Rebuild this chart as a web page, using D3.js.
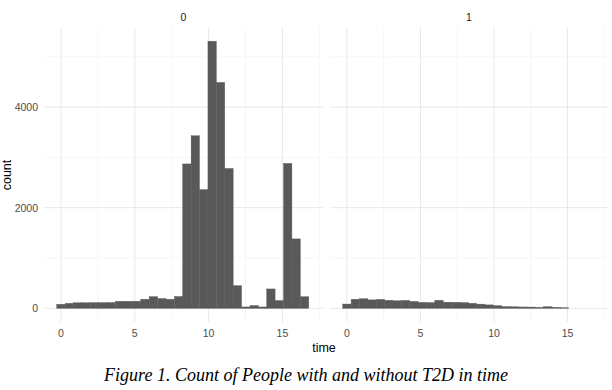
<!DOCTYPE html>
<html>
<head>
<meta charset="utf-8">
<script src="https://cdn.jsdelivr.net/npm/d3@7"></script>
<style>
    body { margin: 0; background: #fff; }
    #chart-area { width: 612px; height: 390px; }
    text { font-family: "Liberation Sans", Arial, sans-serif; }
    .caption { font-family: "Liberation Serif", "Times New Roman", serif; font-style: italic; }
</style>
</head>
<body>
<div id="chart-area"></div>
<script>

// bin centres (time), shared by both facets
const binCenters = [0, 0.57, 1.14, 1.71, 2.28, 2.84, 3.41, 3.98, 4.55, 5.12,
    5.69, 6.26, 6.83, 7.40, 7.97, 8.53, 9.10, 9.67, 10.24, 10.81,
    11.38, 11.95, 12.52, 13.09, 13.66, 14.22, 14.79, 15.36, 15.93, 16.50];
const binWidth = 0.569;

// counts per bin, T2D = 0 and T2D = 1
const counts0 = [80, 100, 110, 110, 112, 112, 115, 140, 140, 140,
    180, 232, 195, 180, 235, 2870, 3430, 2360, 5310, 4490,
    2780, 450, 27, 55, 27, 385, 155, 2880, 1380, 230];
const counts1 = [85, 180, 190, 168, 177, 160, 150, 157, 137, 118,
    114, 160, 122, 120, 114, 100, 83, 68, 53, 34,
    30, 27, 25, 20, 32, 20, 12, 0, 0, 0];

const facetLabels = ["0", "1"];
const xMajor = [0, 5, 10, 15];
const xMinor = [2.5, 7.5, 12.5, 17.5];
const yMajor = [0, 2000, 4000];
const yMinor = [1000, 3000, 5000];


class FacetHistVis {

    constructor(_parentElement, _series) {
        this.parentElement = _parentElement;
        this.series = _series;
        this.initVis();
    }

    initVis() {
        let vis = this;

        vis.width = 612;
        vis.height = 390;

        vis.svg = d3.select("#" + vis.parentElement).append("svg")
            .attr("width", vis.width)
            .attr("height", vis.height);

        // one panel per facet
        vis.panels = [
            {x0: 44, x1: 323},
            {x0: 330, x1: 608}
        ];
        vis.top = 28;
        vis.bottom = 322;

        vis.y = d3.scaleLinear()
            .domain([-272, 5572])
            .range([vis.bottom, vis.top]);

        vis.updateVis();
    }

    updateVis() {
        let vis = this;

        vis.series.forEach((s, i) => {
            let p = vis.panels[i];
            let x = d3.scaleLinear()
                .domain([-1.15, 17.75])
                .range([p.x0, p.x1]);

            let g = vis.svg.append("g");

            // minor grid
            g.selectAll(".vminor").data(xMinor).enter().append("line")
                .attr("x1", d => x(d)).attr("x2", d => x(d))
                .attr("y1", vis.top).attr("y2", vis.bottom)
                .attr("stroke", "#f2f2f2").attr("stroke-width", 0.7);
            g.selectAll(".hminor").data(yMinor).enter().append("line")
                .attr("x1", p.x0).attr("x2", p.x1)
                .attr("y1", d => vis.y(d)).attr("y2", d => vis.y(d))
                .attr("stroke", "#f2f2f2").attr("stroke-width", 0.7);

            // major grid
            g.selectAll(".vmajor").data(xMajor).enter().append("line")
                .attr("x1", d => x(d)).attr("x2", d => x(d))
                .attr("y1", vis.top).attr("y2", vis.bottom)
                .attr("stroke", "#e8e8e8").attr("stroke-width", 1);
            g.selectAll(".hmajor").data(yMajor).enter().append("line")
                .attr("x1", p.x0).attr("x2", p.x1)
                .attr("y1", d => vis.y(d)).attr("y2", d => vis.y(d))
                .attr("stroke", "#e8e8e8").attr("stroke-width", 1);

            // bars (thin stroke of same colour hides seams between bins)
            g.selectAll("rect").data(s.values.map((v, j) => ({t: binCenters[j], n: v})))
                .enter().append("rect")
                .filter(d => d.n > 0)
                .attr("x", d => x(d.t - binWidth / 2))
                .attr("width", d => x(d.t + binWidth / 2) - x(d.t - binWidth / 2))
                .attr("y", d => vis.y(d.n))
                .attr("height", d => vis.y(0) - vis.y(d.n))
                .attr("fill", "#595959")
                .attr("stroke", "#595959")
                .attr("stroke-width", 0.4);

            // x tick labels
            g.selectAll(".xlab").data(xMajor).enter().append("text")
                .attr("x", d => x(d))
                .attr("y", 337)
                .attr("text-anchor", "middle")
                .attr("font-size", "10.5px")
                .attr("fill", "#4d4d4d")
                .text(d => d);

            // facet strip
            g.append("text")
                .attr("x", (p.x0 + p.x1) / 2)
                .attr("y", 21)
                .attr("text-anchor", "middle")
                .attr("font-size", "10.5px")
                .attr("fill", "#1a1a1a")
                .text(s.label);
        });

        // y tick labels on the left panel only
        vis.svg.selectAll(".ylab").data(yMajor).enter().append("text")
            .attr("x", 38)
            .attr("y", d => vis.y(d) + 3.8)
            .attr("text-anchor", "end")
            .attr("font-size", "10.5px")
            .attr("fill", "#4d4d4d")
            .text(d => d);

        // axis titles
        vis.svg.append("text")
            .attr("transform", "translate(11," + ((vis.top + vis.bottom) / 2) + ") rotate(-90)")
            .attr("text-anchor", "middle")
            .attr("font-size", "12.5px")
            .attr("fill", "#000")
            .text("count");

        vis.svg.append("text")
            .attr("x", 324)
            .attr("y", 352)
            .attr("text-anchor", "middle")
            .attr("font-size", "12.5px")
            .attr("fill", "#000")
            .text("time");

        // figure caption
        vis.svg.append("text")
            .attr("class", "caption")
            .attr("x", 306)
            .attr("y", 381)
            .attr("text-anchor", "middle")
            .attr("font-size", "18px")
            .attr("fill", "#000")
            .text("Figure 1. Count of People with and without T2D in time");
    }
}

let histVis = new FacetHistVis("chart-area", [
    {label: facetLabels[0], values: counts0},
    {label: facetLabels[1], values: counts1}
]);

</script>
</body>
</html>
